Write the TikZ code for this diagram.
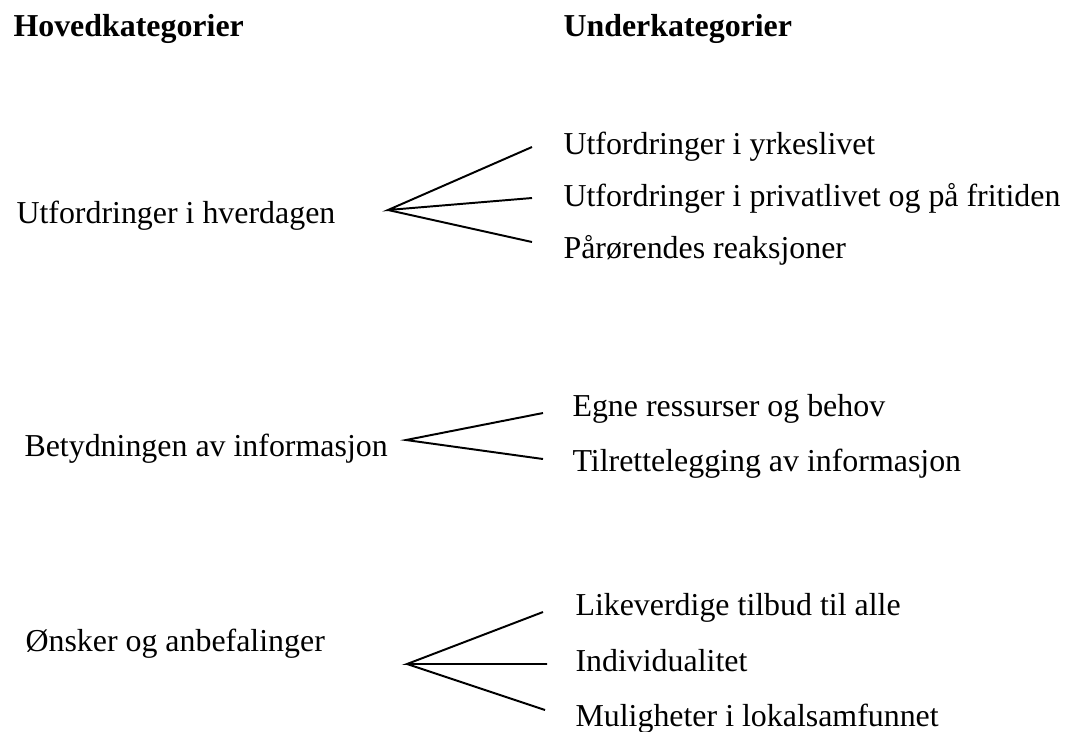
\documentclass[tikz,border=0pt]{standalone}
\usepackage{fontspec}
\setmainfont{Liberation Serif}

\tikzset{
  kat/.style={anchor=base west, inner sep=0pt, font=\fontsize{12.2}{14}\selectfont},
  hkat/.style={kat, font=\fontsize{12.2}{14}\selectfont\bfseries},
  grein/.style={line width=0.75pt}
}

\begin{document}
\begin{tikzpicture}[x=0.01344cm, y=-0.01344cm]

\useasboundingbox (0,0) rectangle (1069,731);

\node (hoved) at (13, 36) [hkat] {Hovedkategorier};
\node (under) at (563, 36) [hkat] {Underkategorier};

% hverdagen
\node (h1) at (16, 223) [kat] {Utfordringer i hverdagen};
\node (u11) at (563, 154) [kat] {Utfordringer i yrkeslivet};
\node (u12) at (563, 206) [kat] {Utfordringer i privatlivet og på fritiden};
\node (u13) at (563, 258) [kat] {Pårørendes reaksjoner};

% informasjon
\node (h2) at (24, 456) [kat] {Betydningen av informasjon};
\node (u21) at (572, 416) [kat] {Egne ressurser og behov};
\node (u22) at (572, 471) [kat] {Tilrettelegging av informasjon};

% anbefalinger
\node (h3) at (25, 651) [kat] {Ønsker og anbefalinger};
\node (u31) at (575, 615) [kat] {Likeverdige tilbud til alle};
\node (u32) at (575, 671) [kat] {Individualitet};
\node (u33) at (575, 726) [kat] {Muligheter i lokalsamfunnet};

\coordinate (a1) at (388, 210);
\coordinate (e11) at (532, 147);
\coordinate (e12) at (532, 198);
\coordinate (e13) at (532, 242);

\coordinate (a2) at (406, 440);
\coordinate (e21) at (543, 413);
\coordinate (e22) at (543, 459);

\coordinate (a3) at (407, 664);
\coordinate (e31) at (543, 612);
\coordinate (e32) at (547, 664);
\coordinate (e33) at (545, 710);

\draw[grein] (e11) -- (a1) -- (e12);
\draw[grein] (a1) -- (e13);
\draw[grein] (e21) -- (a2) -- (e22);
\draw[grein] (e31) -- (a3) -- (e32);
\draw[grein] (a3) -- (e33);

\end{tikzpicture}
\end{document}
